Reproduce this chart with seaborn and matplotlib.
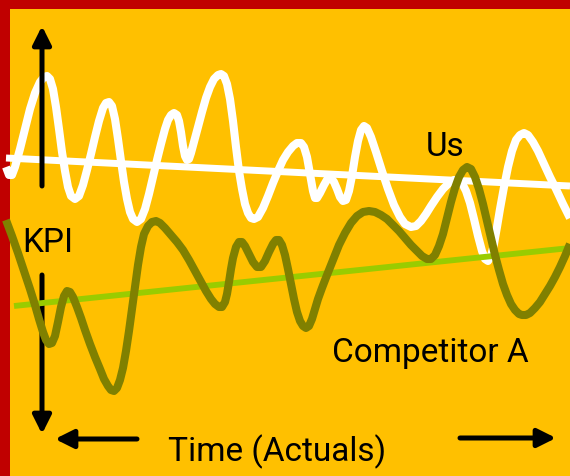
import matplotlib
matplotlib.use("Agg")
import matplotlib.pyplot as plt
import pandas as pd
import seaborn as sns

# --- data: time position and KPI level of each curve ---
us_time = [6, 9, 12, 15, 20, 25, 30, 35, 40, 44, 47, 50, 53, 56, 59, 62, 65, 68, 71, 75,
           79, 83, 87, 91, 95, 99, 103, 106, 109, 112, 115, 118, 121, 124, 127, 130, 133,
           137, 141, 145, 149, 153, 157, 161, 165, 168, 171, 174, 177, 179, 181, 183, 185,
           187, 189, 191, 194, 198, 202, 206, 210, 214, 218, 221, 224, 227, 230, 233, 236,
           239, 242, 245, 248, 251, 254, 258, 263, 268, 273, 278, 283, 288, 293, 297, 301,
           304, 307, 310, 313, 315, 317, 320, 324, 328, 331, 334, 337, 340, 343, 346, 349,
           352, 355, 358, 361, 364, 367, 371, 376, 382, 388, 394, 400, 405, 411, 416, 421,
           426, 431, 437, 443, 449, 454, 458, 462, 466, 470, 474, 478, 482, 485, 488, 491,
           494, 497, 500, 504, 508, 512, 516, 520, 524, 528, 533, 538, 544, 550, 556, 563,
           570]
us_kpi = [309, 301, 301, 309, 327, 347, 367, 383, 394, 399, 400, 397, 387, 369, 347, 324,
          305, 289, 280, 277, 280, 291, 306, 322, 339, 355, 368, 373, 374, 370, 357, 337,
          315, 294, 277, 264, 257, 254, 257, 267, 282, 299, 316, 332, 347, 356, 361, 363,
          361, 355, 344, 330, 320, 316, 317, 323, 334, 349, 364, 378, 389, 397, 401, 402,
          400, 392, 377, 355, 329, 305, 287, 272, 263, 258, 257, 259, 268, 280, 293, 305,
          316, 324, 330, 333, 333, 329, 319, 302, 285, 278, 278, 283, 291, 298, 298, 294,
          287, 279, 275, 276, 285, 300, 319, 335, 346, 350, 348, 339, 324, 305, 287, 271,
          259, 252, 249, 250, 255, 262, 270, 279, 287, 293, 296, 296, 293, 285, 273, 257,
          240, 225, 217, 215, 220, 232, 249, 267, 289, 309, 325, 336, 341, 343, 341, 334,
          325, 312, 299, 287, 272, 258]

comp_time = [6, 12, 18, 24, 30, 35, 39, 43, 46, 49, 52, 55, 58, 61, 64, 67, 70, 73, 77,
             81, 85, 90, 95, 100, 104, 108, 111, 114, 117, 120, 123, 126, 129, 132, 135,
             138, 141, 144, 148, 152, 156, 160, 165, 171, 177, 183, 189, 195, 201, 206,
             211, 215, 219, 222, 225, 227, 229, 231, 233, 236, 239, 242, 245, 249, 253,
             257, 261, 265, 269, 273, 276, 279, 282, 285, 288, 291, 294, 297, 300, 303,
             306, 309, 312, 315, 318, 322, 327, 333, 339, 345, 351, 357, 363, 369, 375,
             381, 387, 393, 399, 405, 411, 417, 422, 427, 431, 435, 439, 443, 447, 451,
             455, 459, 463, 467, 471, 475, 479, 483, 487, 491, 495, 499, 503, 507, 511,
             515, 519, 522, 526, 530, 535, 540, 545, 550, 555, 560, 565, 570]
comp_kpi = [256, 240, 223, 205, 187, 171, 157, 144, 136, 132, 133, 140, 154, 169, 180,
            185, 184, 179, 169, 158, 146, 132, 119, 107, 97, 90, 86, 85, 88, 96, 108, 125,
            145, 167, 189, 211, 229, 242, 250, 254, 255, 253, 248, 241, 234, 226, 216, 205,
            194, 185, 177, 172, 169, 169, 174, 182, 194, 207, 218, 229, 234, 234, 230, 222,
            214, 209, 209, 215, 224, 232, 236, 236, 231, 221, 207, 192, 177, 164, 155, 150,
            148, 150, 157, 167, 177, 188, 201, 216, 231, 243, 253, 260, 264, 265, 264, 261,
            257, 251, 245, 238, 231, 225, 220, 217, 217, 221, 230, 242, 258, 274, 288, 299,
            306, 309, 307, 299, 287, 272, 255, 238, 221, 206, 192, 181, 172, 166, 162, 161,
            161, 163, 168, 174, 182, 190, 199, 209, 220, 232]

us_trend_time = [6, 570]
us_trend_kpi = [318, 290]
comp_trend_time = [14, 570]
comp_trend_kpi = [170, 228]

# --- colours ---
ORANGE = "#FFC000"
RED = "#C00000"
OLIVE = "#808000"
LIME = "#99CC00"

sns.set_theme(style="white")
plt.rcParams["font.family"] = ["Roboto", "DejaVu Sans"]

W, H = 570, 477
fig = plt.figure(figsize=(W / 100, H / 100), dpi=100, facecolor=RED)
ax = fig.add_axes([10 / W, 0, (W - 10) / W, (H - 10) / H])
ax.set_facecolor(ORANGE)

us = pd.DataFrame({"time": us_time, "kpi": us_kpi})
comp = pd.DataFrame({"time": comp_time, "kpi": comp_kpi})
us_tr = pd.DataFrame({"time": us_trend_time, "kpi": us_trend_kpi})
comp_tr = pd.DataFrame({"time": comp_trend_time, "kpi": comp_trend_kpi})

line_kw = dict(estimator=None, sort=False, legend=False, clip_on=False,
               solid_joinstyle="round", solid_capstyle="butt")
sns.lineplot(data=us, x="time", y="kpi", color="white", linewidth=5.8, zorder=2, ax=ax, **line_kw)
sns.lineplot(data=us_tr, x="time", y="kpi", color="white", linewidth=5.0, zorder=2, ax=ax, **line_kw)

# axis arrows
arrow_kw = dict(arrowstyle="-|>,head_length=1.0,head_width=0.5", color="black",
                lw=3.6, mutation_scale=11, shrinkA=0, shrinkB=0)
ax.annotate("", xy=(42, 450), xytext=(42, 290), arrowprops=arrow_kw, zorder=3)
ax.annotate("", xy=(42, 42), xytext=(42, 201), arrowprops=arrow_kw, zorder=3)
ax.annotate("", xy=(55, 37), xytext=(137, 37), arrowprops=arrow_kw, zorder=3)
ax.annotate("", xy=(556, 38), xytext=(460, 38), arrowprops=arrow_kw, zorder=3)

sns.lineplot(data=comp_tr, x="time", y="kpi", color=LIME, linewidth=4.2, zorder=4, ax=ax, **line_kw)
sns.lineplot(data=comp, x="time", y="kpi", color=OLIVE, linewidth=5.8, zorder=5, ax=ax, **line_kw)

fs = 24
ax.text(48, 234, "KPI", fontsize=fs, ha="center", va="center", color="black", zorder=6)
ax.text(445, 330, "Us", fontsize=fs, ha="center", va="center", color="black", zorder=6)
ax.text(430, 124, "Competitor A", fontsize=fs, ha="center", va="center", color="black", zorder=6)
ax.text(277, 25, "Time (Actuals)", fontsize=fs, ha="center", va="center", color="black", zorder=6)

ax.set_xlim(10, W)
ax.set_ylim(0, H - 10)
ax.set_xticks([])
ax.set_yticks([])
ax.set_xlabel("")
ax.set_ylabel("")
for spine in ax.spines.values():
    spine.set_visible(False)

fig.savefig("out.png", dpi=100, facecolor=RED)
